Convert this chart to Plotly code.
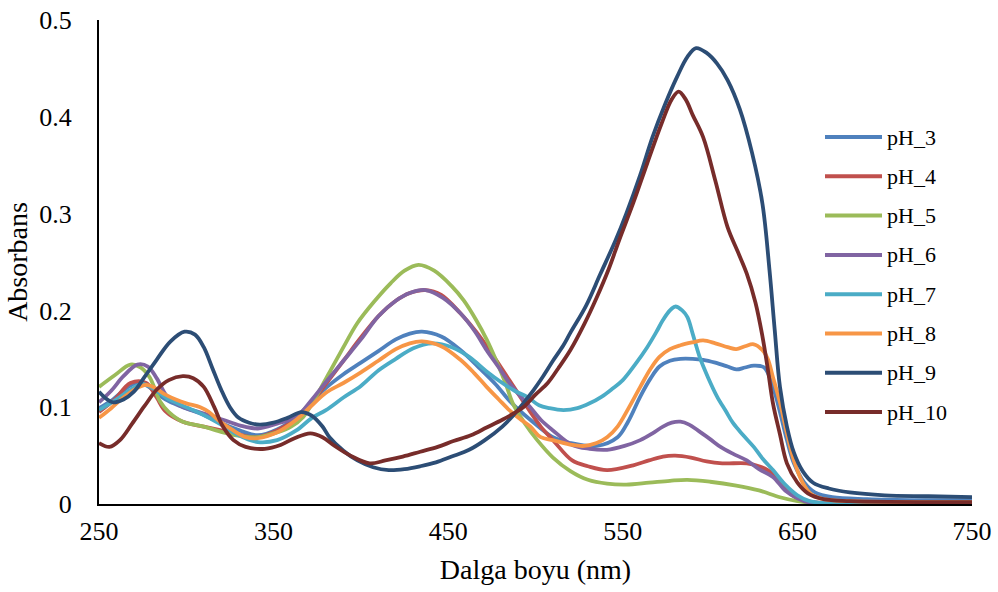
import plotly.graph_objects as go

# Wavelength (nm) / absorbance readings per series
ph3_x = [250, 258, 266, 273, 280, 288, 298, 310, 322, 332, 341, 352, 363, 372, 380, 390, 400, 410, 420, 428, 435, 446, 457, 467, 477, 486, 497, 510, 520, 535, 547, 553, 560, 566, 571, 577, 583, 590, 596, 603, 610, 615, 620, 625, 631, 636, 640, 644, 648, 654, 660, 670, 690, 720, 750]
ph3_y = [0.099, 0.108, 0.120, 0.126, 0.119, 0.108, 0.100, 0.092, 0.082, 0.075, 0.071, 0.077, 0.090, 0.106, 0.120, 0.134, 0.146, 0.158, 0.170, 0.176, 0.178, 0.173, 0.159, 0.142, 0.124, 0.105, 0.087, 0.069, 0.063, 0.060, 0.069, 0.085, 0.111, 0.130, 0.142, 0.148, 0.150, 0.150, 0.149, 0.146, 0.142, 0.139, 0.141, 0.143, 0.141, 0.121, 0.095, 0.066, 0.042, 0.022, 0.012, 0.007, 0.005, 0.004, 0.004]

ph4_x = [250, 259, 268, 277, 283, 288, 298, 310, 320, 330, 340, 352, 363, 372, 380, 390, 400, 410, 420, 428, 437, 446, 457, 466, 474, 485, 496, 503, 510, 521, 530, 541, 556, 565, 573, 580, 589, 598, 607, 621, 628, 633, 640, 647, 655, 670, 750]
ph4_y = [0.095, 0.108, 0.125, 0.125, 0.110, 0.096, 0.085, 0.080, 0.076, 0.072, 0.069, 0.076, 0.088, 0.105, 0.124, 0.148, 0.172, 0.194, 0.210, 0.218, 0.221, 0.216, 0.197, 0.178, 0.158, 0.128, 0.098, 0.080, 0.066, 0.045, 0.039, 0.035, 0.040, 0.045, 0.049, 0.050, 0.048, 0.044, 0.042, 0.042, 0.039, 0.035, 0.025, 0.009, 0.003, 0.001, 0.001]

ph5_x = [250, 259, 268, 274, 279, 285, 290, 298, 310, 321, 332, 341, 352, 360, 367, 374, 382, 390, 398, 408, 417, 425, 433, 442, 452, 459, 466, 472, 478, 483, 487, 494, 501, 510, 520, 530, 541, 552, 565, 577, 587, 600, 615, 628, 640, 650, 660, 750]
ph5_y = [0.121, 0.133, 0.144, 0.141, 0.131, 0.106, 0.095, 0.085, 0.080, 0.074, 0.070, 0.069, 0.074, 0.080, 0.090, 0.110, 0.136, 0.162, 0.187, 0.210, 0.228, 0.241, 0.247, 0.241, 0.225, 0.210, 0.190, 0.170, 0.146, 0.124, 0.104, 0.083, 0.066, 0.048, 0.034, 0.025, 0.021, 0.020, 0.022, 0.024, 0.025, 0.023, 0.019, 0.014, 0.007, 0.003, 0.001, 0.001]

ph6_x = [250, 257, 264, 272, 278, 283, 289, 295, 300, 311, 321, 331, 341, 352, 363, 372, 380, 390, 400, 410, 420, 428, 437, 447, 457, 465, 472, 479, 485, 491, 497, 503, 510, 521, 531, 541, 551, 560, 567, 573, 578, 583, 588, 593, 600, 606, 613, 621, 628, 636, 643, 650, 656, 670, 750]
ph6_y = [0.105, 0.117, 0.132, 0.144, 0.142, 0.130, 0.111, 0.103, 0.099, 0.093, 0.087, 0.081, 0.078, 0.083, 0.090, 0.108, 0.126, 0.148, 0.170, 0.194, 0.210, 0.218, 0.221, 0.213, 0.197, 0.179, 0.159, 0.141, 0.125, 0.112, 0.100, 0.087, 0.076, 0.061, 0.057, 0.056, 0.060, 0.066, 0.073, 0.080, 0.084, 0.085, 0.082, 0.076, 0.067, 0.059, 0.052, 0.045, 0.036, 0.028, 0.014, 0.006, 0.002, 0.001, 0.001]

ph7_x = [250, 260, 268, 275, 282, 290, 300, 310, 320, 330, 341, 352, 363, 372, 380, 390, 400, 410, 420, 430, 441, 452, 462, 472, 481, 488, 495, 502, 508, 516, 524, 531, 538, 544, 550, 557, 564, 569, 573, 577, 580, 584, 587, 590, 594, 599, 604, 609, 613, 619, 625, 630, 636, 643, 650, 657, 665, 750]
ph7_y = [0.097, 0.108, 0.118, 0.124, 0.118, 0.108, 0.100, 0.092, 0.082, 0.071, 0.064, 0.066, 0.076, 0.089, 0.097, 0.110, 0.122, 0.138, 0.150, 0.161, 0.166, 0.162, 0.152, 0.137, 0.125, 0.117, 0.111, 0.102, 0.099, 0.097, 0.099, 0.104, 0.111, 0.119, 0.128, 0.144, 0.162, 0.177, 0.190, 0.200, 0.204, 0.200, 0.193, 0.176, 0.152, 0.130, 0.111, 0.096, 0.084, 0.071, 0.059, 0.047, 0.035, 0.020, 0.009, 0.003, 0.001, 0.001]

ph8_x = [250, 257, 264, 271, 277, 282, 287, 294, 300, 308, 313, 318, 326, 334, 341, 352, 363, 372, 380, 390, 400, 410, 420, 428, 435, 446, 457, 465, 472, 479, 485, 491, 497, 503, 510, 521, 528, 535, 541, 547, 553, 560, 566, 571, 577, 583, 590, 596, 603, 610, 615, 620, 625, 630, 633, 636, 640, 644, 648, 653, 658, 665, 680, 750]
ph8_y = [0.089, 0.099, 0.110, 0.119, 0.123, 0.120, 0.114, 0.108, 0.104, 0.100, 0.095, 0.087, 0.077, 0.069, 0.068, 0.074, 0.087, 0.102, 0.115, 0.125, 0.136, 0.148, 0.160, 0.166, 0.168, 0.163, 0.149, 0.135, 0.121, 0.108, 0.097, 0.088, 0.080, 0.069, 0.066, 0.061, 0.060, 0.063, 0.069, 0.080, 0.098, 0.121, 0.140, 0.152, 0.160, 0.164, 0.167, 0.169, 0.166, 0.162, 0.160, 0.163, 0.165, 0.159, 0.150, 0.131, 0.105, 0.073, 0.045, 0.022, 0.010, 0.005, 0.003, 0.002]

ph9_x = [250, 254, 258, 264, 270, 276, 283, 291, 299, 305, 310, 315, 320, 325, 330, 336, 342, 350, 358, 366, 372, 378, 382, 390, 398, 407, 416, 425, 434, 443, 452, 462, 471, 481, 488, 493, 499, 504, 510, 516, 520, 529, 537, 546, 552, 560, 567, 574, 581, 587, 592, 598, 604, 610, 617, 624, 630, 634, 637, 640, 644, 648, 653, 659, 668, 680, 700, 725, 750]
ph9_y = [0.116, 0.109, 0.105, 0.108, 0.116, 0.131, 0.149, 0.168, 0.178, 0.175, 0.162, 0.140, 0.118, 0.100, 0.089, 0.084, 0.082, 0.084, 0.089, 0.095, 0.091, 0.080, 0.069, 0.055, 0.045, 0.038, 0.035, 0.036, 0.039, 0.043, 0.049, 0.056, 0.066, 0.080, 0.093, 0.104, 0.118, 0.131, 0.148, 0.164, 0.177, 0.205, 0.237, 0.273, 0.300, 0.340, 0.379, 0.412, 0.441, 0.462, 0.471, 0.466, 0.455, 0.438, 0.408, 0.363, 0.310, 0.242, 0.180, 0.121, 0.080, 0.053, 0.034, 0.022, 0.016, 0.012, 0.009, 0.008, 0.007]

ph10_x = [250, 256, 262, 269, 276, 283, 290, 298, 304, 310, 316, 321, 327, 334, 345, 354, 362, 371, 378, 385, 394, 405, 414, 424, 434, 444, 453, 463, 472, 481, 487, 493, 500, 507, 513, 520, 528, 535, 542, 548, 556, 564, 572, 578, 582, 586, 590, 596, 603, 610, 616, 621, 626, 630, 633, 636, 640, 644, 650, 656, 665, 680, 750]
ph10_y = [0.063, 0.059, 0.066, 0.083, 0.101, 0.118, 0.128, 0.132, 0.130, 0.121, 0.100, 0.080, 0.066, 0.059, 0.057, 0.061, 0.068, 0.073, 0.069, 0.060, 0.050, 0.042, 0.045, 0.049, 0.054, 0.059, 0.065, 0.071, 0.079, 0.087, 0.093, 0.100, 0.113, 0.125, 0.140, 0.159, 0.186, 0.213, 0.243, 0.273, 0.311, 0.352, 0.392, 0.418, 0.426, 0.418, 0.402, 0.379, 0.334, 0.286, 0.260, 0.238, 0.208, 0.173, 0.140, 0.104, 0.072, 0.042, 0.022, 0.011, 0.005, 0.003, 0.002]

series_names = ["pH_3", "pH_4", "pH_5", "pH_6", "pH_7", "pH_8", "pH_9", "pH_10"]
series_x = [ph3_x, ph4_x, ph5_x, ph6_x, ph7_x, ph8_x, ph9_x, ph10_x]
series_y = [ph3_y, ph4_y, ph5_y, ph6_y, ph7_y, ph8_y, ph9_y, ph10_y]
series_colors = ["#4F81BD", "#C0504D", "#9BBB59", "#8064A2", "#4BACC6", "#F79646", "#2C4D75", "#772C2A"]

x_ticks = [250, 350, 450, 550, 650, 750]
y_ticks = [0, 0.1, 0.2, 0.3, 0.4, 0.5]
y_tick_labels = ["0", "0.1", "0.2", "0.3", "0.4", "0.5"]

FONT = "Liberation Serif"

fig = go.Figure()
for name, xs, ys, col in zip(series_names, series_x, series_y, series_colors):
    fig.add_trace(go.Scatter(
        x=xs, y=ys, name=name, mode="lines", showlegend=False,
        line=dict(color=col, width=3.8, shape="spline", smoothing=1.0),
    ))

# Legend drawn at the right inside the plot area (Excel-style long swatches)
plot_l, plot_r, plot_t, plot_b = 99, 972, 20, 504
pw, ph = plot_r - plot_l, plot_b - plot_t
shapes = []
annotations = []
for i, (name, col) in enumerate(zip(series_names, series_colors)):
    yp = 137 + 39.3 * i
    yy = (plot_b - yp) / ph
    shapes.append(dict(type="line", xref="paper", yref="paper",
                       x0=(825 - plot_l) / pw, x1=(882 - plot_l) / pw, y0=yy, y1=yy,
                       line=dict(color=col, width=4)))
    annotations.append(dict(xref="paper", yref="paper", x=(885 - plot_l) / pw, y=yy,
                            xanchor="left", yanchor="middle", text=name, showarrow=False,
                            font=dict(family=FONT, size=22, color="black")))

fig.update_layout(
    width=998, height=592,
    margin=dict(l=plot_l, r=998 - plot_r, t=plot_t, b=592 - plot_b),
    paper_bgcolor="white", plot_bgcolor="white",
    font=dict(family=FONT, color="black"),
    showlegend=False,
    shapes=shapes,
    annotations=annotations,
    xaxis=dict(
        range=[250, 750], tickvals=x_ticks, ticktext=[str(v) for v in x_ticks],
        showgrid=False, zeroline=False, showline=True, linecolor="black", linewidth=2,
        ticks="outside", ticklen=3, tickcolor="rgba(0,0,0,0)", automargin=False,
        tickfont=dict(family=FONT, size=26, color="black"),
        title=dict(text="Dalga boyu (nm)", font=dict(family=FONT, size=28, color="black"), standoff=14),
    ),
    yaxis=dict(
        range=[0, 0.5], tickvals=y_ticks, ticktext=y_tick_labels,
        showgrid=False, zeroline=False, showline=True, linecolor="black", linewidth=2,
        ticks="outside", ticklen=20, tickcolor="rgba(0,0,0,0)", automargin=False,
        tickfont=dict(family=FONT, size=26, color="black"),
        title=dict(text="Absorbans", font=dict(family=FONT, size=28, color="black"), standoff=3),
    ),
)

fig.write_html("out.html", config={"displayModeBar": False},
               post_script="document.body.style.margin='0px';")
